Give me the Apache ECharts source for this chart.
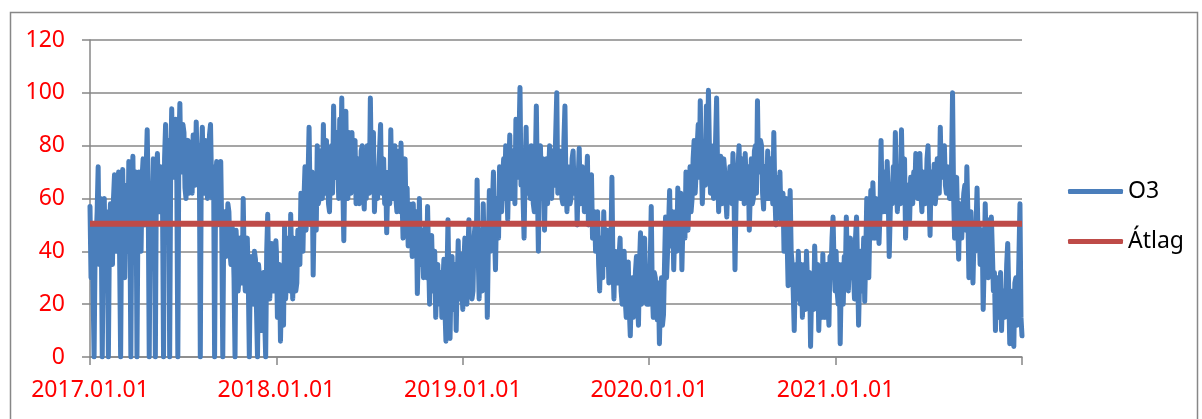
<!DOCTYPE html>
<html>
<head>
<meta charset="utf-8">
<script src="https://cdn.jsdelivr.net/npm/echarts@6/dist/echarts.min.js"></script>
<style>
  html, body { margin: 0; padding: 0; background: #fff; }
  #chart { width: 1202px; height: 419px; }
</style>
</head>
<body>
<div id="chart"></div>
<script>
// O3 értékek 2 naponként, az ábráról becsülve (évenként)
const yearStarts = [0, 365, 730, 1095, 1461]; // napok 2017.01.01 óta
const stepDays = 2;

const o3_2017 = [
  57,30, 50,25, 0,40, 45,55, 72,35, 60,50, 0,42, 60,30, 55,48, 0,45,
  58,52, 35,60, 69,40, 45,62, 70,38, 0,55, 71,45, 30,58, 65,40, 74,55,
  0,60, 76,48, 50,70, 0,55, 70,45, 40,68, 75,52, 50,72, 86,60, 0,58,
  65,50, 75,62, 0,70, 77,60, 55,72, 70,58, 0,75, 88,65, 70,82, 0,72,
  94,68, 75,85, 90,66, 0,80, 96,70, 72,88, 85,64, 60,78, 82,62, 78,70,
  62,84, 81,65, 89,72, 70,80, 0,76, 87,62, 68,82, 79,60, 75,84, 88,66,
  60,72, 0,65, 74,50, 55,66, 74,48, 0,52, 55,38, 45,58, 55,40, 35,50,
  46,30, 0,48, 40,25, 30,45, 37,28, 60,35, 25,42, 45,28, 0,35, 38,22,
  20,40, 37,18, 0,35, 30,12, 10,28, 32,15, 0,40, 54,30, 22,38, 43,25,
  30,40, 44
];
const o3_2018 = [
  40,15, 20,35, 6,25, 30,12, 50,22, 30,40, 45,25, 54,35, 22,45, 40,25,
  28,48, 45,35, 62,42, 40,60, 72,48, 55,68, 87,58, 50,70, 31,55, 65,48,
  80,58, 60,78, 75,60, 88,65, 62,82, 70,58, 55,75, 80,62, 95,70, 68,85,
  75,60, 90,70, 98,65, 44,72, 93,62, 60,85, 80,62, 85,66, 70,82, 58,72,
  75,58, 60,78, 80,62, 56,72, 60,80, 75,62, 98,68, 70,85, 55,66, 70,60,
  60,78, 88,62, 65,75, 58,70, 47,65, 70,58, 86,64, 60,75, 80,60, 55,70,
  78,55, 81,60, 45,65, 75,50, 64,42, 58,48, 50,38, 58,42, 45,55, 24,40,
  60,35, 40,48, 30,42, 50,30, 57,38, 20,45, 46,30, 25,40, 15,30, 35,22,
  20,32, 15,28, 37,18, 6,30, 52,25, 7,30, 38,18, 25,35, 10,28, 44,22,
  39
];
const o3_2019 = [
  18,35, 45,28, 20,40, 52,30, 38,22, 25,45, 50,35, 67,40, 22,48, 40,25,
  58,38, 30,50, 15,42, 63,40, 45,58, 70,48, 33,55, 60,45, 72,58, 55,68,
  75,60, 80,65, 52,72, 84,62, 60,78, 75,58, 90,68, 70,82, 102,65, 78,60,
  45,70, 87,62, 62,75, 60,80, 70,58, 55,72, 95,65, 40,70, 80,62, 60,75,
  48,68, 75,58, 58,80, 70,60, 78,65, 70,85, 100,62, 65,78, 75,60, 58,82,
  95,65, 55,72, 72,58, 60,75, 78,62, 65,70, 50,68, 79,58, 60,72, 70,55,
  55,65, 76,50, 60,58, 69,45, 50,55, 40,48, 55,35, 25,42, 45,30, 55,38,
  35,48, 45,28, 30,42, 68,35, 22,40, 40,30, 28,38, 45,25, 20,35, 40,22,
  15,30, 36,18, 8,25, 30,15, 20,32, 38,22, 12,35, 47,20, 25,38, 45,28,
  20
];
const o3_2020 = [
  20,35, 57,25, 15,32, 30,20, 14,28, 5,22, 30,12, 16,35, 53,30, 40,50,
  63,42, 45,55, 33,48, 55,40, 64,45, 55,62, 33,50, 60,45, 70,55, 48,62,
  72,55, 60,75, 82,62, 70,80, 88,68, 97,75, 58,70, 80,65, 95,72, 101,78,
  62,80, 75,60, 65,82, 98,70, 55,72, 76,58, 65,75, 70,60, 53,68, 60,72,
  70,58, 77,62, 33,58, 65,72, 80,60, 62,75, 70,58, 77,65, 60,72, 48,62,
  75,58, 60,78, 80,62, 97,70, 72,82, 80,62, 56,72, 70,60, 78,65, 60,75,
  75,58, 85,62, 50,68, 65,55, 70,52, 55,62, 40,55, 60,45, 27,50, 63,40,
  35,25, 10,30, 35,22, 40,28, 20,35, 15,30, 35,18, 40,28, 20,32, 4,25,
  30,18, 42,28, 25,35, 10,22, 30,15, 39,25, 15,30, 35,20, 12,38, 32,45,
  53,35, 25
];
const o3_2021 = [
  40,25, 20,35, 5,28, 35,20, 38,30, 53,35, 25,40, 45,30, 41,32, 22,45,
  53,35, 12,30, 40,25, 30,45, 21,38, 60,42, 30,50, 63,45, 66,52, 45,60,
  48,58, 43,55, 82,60, 55,70, 60,55, 74,62, 38,55, 65,58, 72,60, 85,65,
  55,72, 70,58, 86,65, 60,75, 45,62, 65,55, 52,68, 65,58, 70,62, 77,65,
  60,72, 77,62, 55,70, 70,58, 60,75, 80,62, 46,70, 68,60, 73,58, 62,75,
  75,62, 87,68, 70,78, 80,65, 62,72, 70,60, 65,72, 100,62, 45,65, 68,50,
  37,58, 55,45, 55,62, 65,48, 72,55, 30,48, 55,38, 28,45, 40,50, 64,45,
  50,35, 40,48, 18,35, 58,40, 40,30, 52,35, 53,40, 25,32, 10,25, 30,15,
  20,32, 10,25, 22,15, 20,35, 43,25, 5,18, 12,25, 4,28, 30,12, 20,38,
  58,15, 8
];
const atlag = 50.4;
const tickLabels = ['2017.01.01', '2018.01.01', '2019.01.01', '2020.01.01', '2021.01.01', ''];

const years = [o3_2017, o3_2018, o3_2019, o3_2020, o3_2021];
const o3Data = [];
years.forEach((vals, y) => {
  vals.forEach((v, j) => o3Data.push([yearStarts[y] + j * stepDays, v]));
});
const lastDay = 1825;

const gridColor = '#878787';
const labelFont = 'Noto Sans';

const buildOption = () => {
  return {
    animation: false,
    backgroundColor: '#fff',
    graphic: [
      {
        type: 'rect',
        left: 8,
        top: 10,
        shape: { width: 1187, height: 430 },
        style: { fill: 'none', stroke: gridColor, lineWidth: 1.5 }
      }
    ],
    grid: { left: 90, right: 180, top: 40, bottom: 62 },
    legend: {
      orient: 'vertical',
      left: 1063,
      top: 175,
      itemWidth: 55,
      itemHeight: 5,
      itemGap: 27,
      icon: 'roundRect',
      textStyle: { fontSize: 23, fontFamily: labelFont, color: '#000' },
      data: ['O3', 'Átlag']
    },
    xAxis: {
      type: 'value',
      min: 0,
      max: lastDay,
      interval: 365,
      axisLine: { lineStyle: { color: gridColor, width: 1.5 } },
      axisTick: { length: 8, lineStyle: { color: gridColor, width: 1.5 } },
      splitLine: { show: false },
      axisLabel: {
        color: '#FF0000',
        fontSize: 23,
        fontFamily: labelFont,
        margin: 22,
        showMaxLabel: true,
        formatter: (v) => tickLabels[Math.round(v / 365)] || ''
      }
    },
    yAxis: {
      type: 'value',
      min: 0,
      max: 120,
      interval: 20,
      axisLine: { show: true, lineStyle: { color: gridColor, width: 1.5 } },
      axisTick: { show: true, length: 8, lineStyle: { color: gridColor, width: 1.5 } },
      splitLine: { lineStyle: { color: gridColor, width: 1.5 } },
      axisLabel: { color: '#FF0000', fontSize: 23, fontFamily: labelFont, margin: 25 }
    },
    series: [
      {
        name: 'O3',
        type: 'line',
        data: o3Data,
        symbol: 'none',
        sampling: null,
        lineStyle: { color: '#4A7EBB', width: 5, join: 'round', cap: 'round' },
        itemStyle: { color: '#4A7EBB' },
        z: 2
      },
      {
        name: 'Átlag',
        type: 'line',
        data: [[0, atlag], [lastDay, atlag]],
        symbol: 'none',
        lineStyle: { color: '#BE4B48', width: 6 },
        itemStyle: { color: '#BE4B48' },
        z: 3
      }
    ]
  };
};

const myChart = echarts.init(document.getElementById('chart'));
myChart.setOption(buildOption());
</script>
</body>
</html>
